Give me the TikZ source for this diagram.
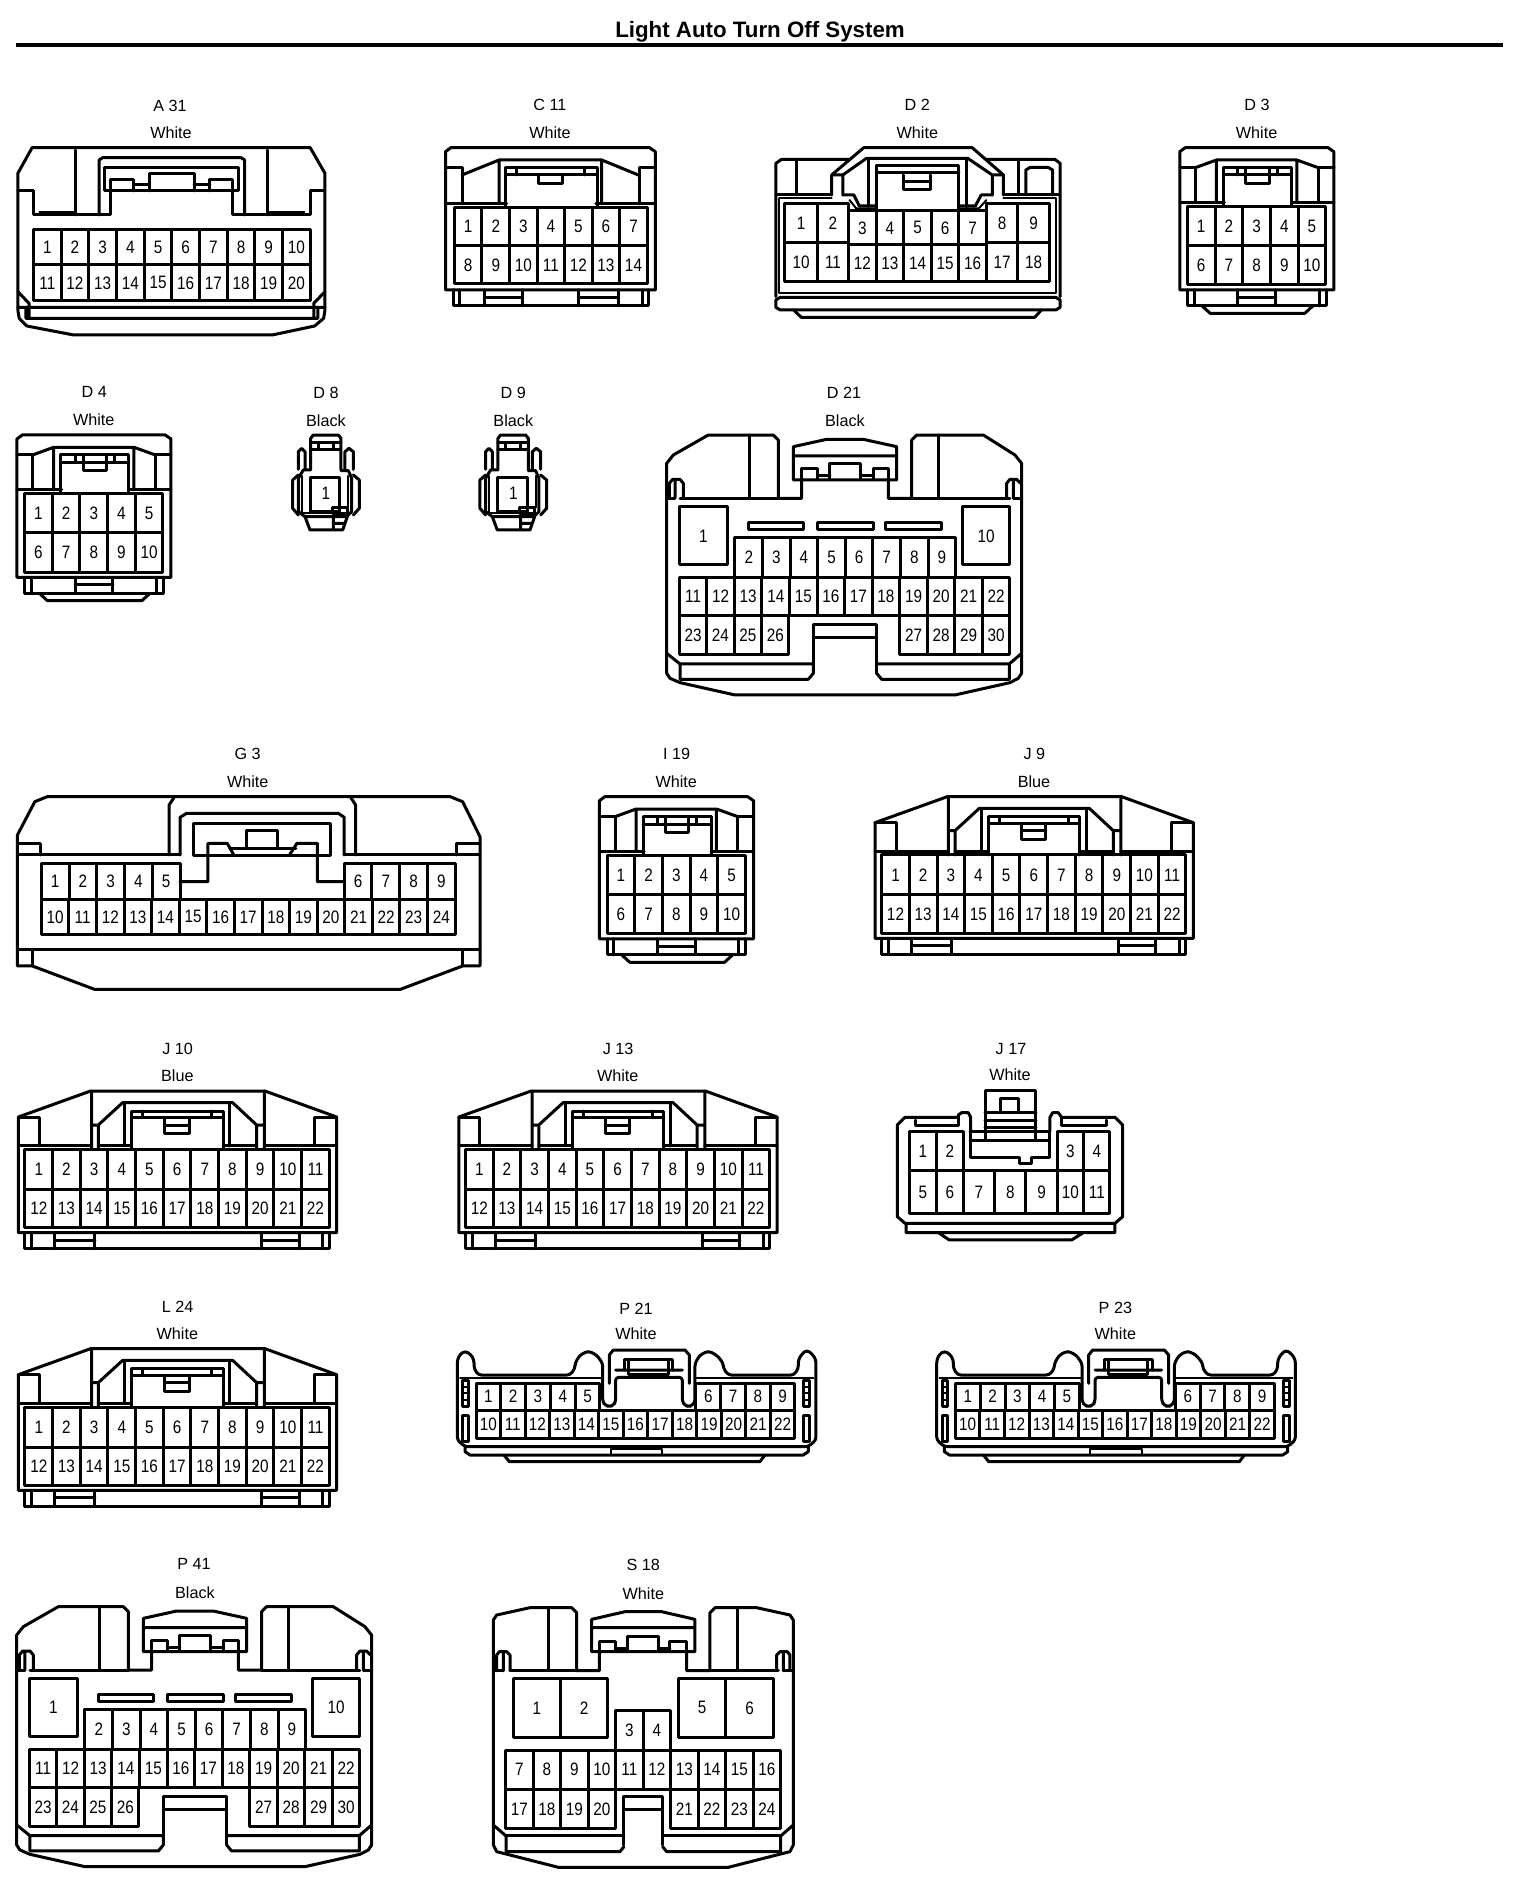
\documentclass[tikz,border=0pt]{standalone}
\usepackage{fontspec}
\setmainfont{Liberation Sans}
\newcounter{nd}
\tikzset{
 ln/.style={line width=3pt,line join=round,line cap=round},
 tn/.style={line width=2pt,line join=round,line cap=round},
 pinlab/.style={inner sep=0pt,font=\fontsize{18}{20}\selectfont},
 lab/.style={inner sep=0pt,font=\fontsize{16.2}{18}\selectfont},
 ttl/.style={inner sep=0pt,font=\fontsize{22.3}{24}\selectfont\bfseries},
 zA/.style={x=0.4464pt,y=-0.3333pt},
 zB/.style={x=0.3954pt,y=-0.3333pt},
 zC/.style={x=0.4974pt,y=-0.3333pt},
 zD/.style={x=0.3333pt,y=-0.3333pt}
}
\newcommand\pcell[5]{%
 \draw[ln] (#1,#3) rectangle (#2,#4);
 \stepcounter{nd}%
 \node[pinlab] (n\arabic{nd}) at ({(#1+#2)/2},{(#3+#4)/2}) {\scalebox{0.85}[1]{#5}};
}
\newcommand\prow[6]{%
 \foreach \ii in {1,...,#6}{%
  \pgfmathsetmacro\xa{#1+(\ii-1)*(#2-#1)/#6}%
  \pgfmathsetmacro\xb{#1+\ii*(#2-#1)/#6}%
  \pgfmathtruncatemacro\nm{#5+\ii-1}%
  \pcell{\xa}{\xb}{#3}{#4}{\nm}
 }
}
\newcommand\clab[3]{%
 \stepcounter{nd}%
 \node[lab] (n\arabic{nd}) at (#1,#2) {#3};
}
% ---- J family (J9 geometry, zoom scale 3)
\newcommand\jshape[2]{%
 \clab{523}{43}{#1}\clab{522}{124}{#2}
 \draw[ln] (45,248)--(262,170)--(785,170)--(1000,248)--(1000,595)--(45,595)--cycle;
 \draw[ln] (45,335)--(265,335) (285,335)--(385,335) (660,335)--(760,335) (783,335)--(1000,335);
 \draw[ln] (45,248)--(108,248)--(108,335) (1000,248)--(935,248)--(935,335);
 \draw[ln] (265,170)--(265,345) (285,345)--(285,272)--(358,205)--(688,205)--(760,272)--(760,345) (265,272)--(285,272) (760,272)--(783,272) (783,170)--(783,345);
 \draw[ln] (365,205)--(365,335) (680,205)--(680,335);
 \draw[ln] (385,345)--(385,230)--(660,230)--(660,345) (385,250)--(660,250) (418,230)--(418,250) (625,230)--(625,250);
 \draw[ln] (485,250)--(485,298)--(558,298)--(558,250) (485,272)--(558,272);
 \prow{65}{978}{345}{465}{1}{11}
 \prow{65}{978}{465}{580}{12}{11}
 \draw[ln] (65,595)--(65,643)--(978,643)--(978,595) (85,595)--(85,643) (958,595)--(958,643);
 \draw[ln] (155,595)--(155,643) (275,595)--(275,643) (155,618)--(275,618);
 \draw[ln] (775,595)--(775,643) (888,595)--(888,643) (775,618)--(888,618);
}
% ---- D3 family (zoom x 2.24, y 3)
\newcommand\dshape[2]{%
 \clab{1203}{75}{#1}\clab{1202}{158}{#2}
 \draw[ln] (1030,630)--(1030,215)--(1042,203)--(1362,203)--(1375,215)--(1375,630)--cycle;
 \draw[ln] (1030,263)--(1065,263)--(1065,368) (1375,263)--(1340,263)--(1340,368);
 \draw[ln] (1065,263)--(1112,240)--(1292,240)--(1340,263) (1112,240)--(1112,368) (1292,240)--(1292,368);
 \draw[ln] (1030,368)--(1130,368) (1280,368)--(1375,368);
 \draw[ln] (1128,378)--(1128,262)--(1280,262)--(1280,378) (1128,285)--(1280,285);
 \draw[ln] (1178,262)--(1178,310)--(1230,310)--(1230,262) (1160,262)--(1160,285) (1248,262)--(1248,285);
 \prow{1047}{1357}{380}{497}{1}{5}
 \prow{1047}{1357}{497}{615}{6}{5}
 \draw[ln] (1047,630)--(1047,678)--(1358,678)--(1358,630) (1062,630)--(1062,678) (1342,630)--(1342,678);
 \draw[ln] (1160,630)--(1160,672) (1245,630)--(1245,672) (1160,652)--(1245,652);
 \draw[ln] (1080,678)--(1098,700)--(1310,700)--(1328,678);
}
% ---- D8 family (zoom 3)
\newcommand\dsmall[2]{%
 \clab{168}{-22}{#1}\clab{168}{62}{#2}
 \draw[ln] (122,208)--(122,115)--(130,105)--(205,105)--(213,115)--(213,208);
 \draw[ln] (122,127)--(213,127) (122,148)--(213,148) (145,127)--(145,148) (190,127)--(190,148);
 \draw[ln] (122,210)--(100,210)--(85,235)--(85,335)--(105,350)--(230,350)--(245,335)--(245,235)--(235,212)--(213,212);
 \draw[ln] (85,208)--(85,155)--(95,145)--(105,155)--(105,208) (225,208)--(225,155)--(237,145)--(250,155)--(250,208);
 \draw[ln] (85,225)--(68,240)--(68,325)--(85,345) (250,225)--(268,240)--(268,325)--(250,345);
 \draw[tn] (95,228)--(95,340)--(190,340) (235,228)--(235,322);
 \draw[ln] (122,232) rectangle (210,335);
 \stepcounter{nd}\node[pinlab] (n\arabic{nd}) at (168,280) {\scalebox{0.85}[1]{1}};
 \draw[ln] (188,322) rectangle (232,340);
 \draw[ln] (105,350)--(120,390)--(218,390)--(232,350) (190,352)--(190,390) (190,370)--(225,370);
}
% ---- D21 family (zoom 3)
\newcommand\dwide[2]{%
 \clab{612}{38}{#1}\clab{615}{122}{#2}
 \draw[ln] (80,880)--(80,250)--(100,225)--(205,165)--(400,165)--(415,180)--(415,355)--(485,355)--(485,295);
 \draw[ln] (1145,880)--(1145,250)--(1125,225)--(1030,165)--(830,165)--(815,180)--(815,355)--(745,355)--(745,295);
 \draw[ln] (330,165)--(330,355) (897,165)--(897,355) (120,355)--(415,355) (815,355)--(1110,355);
 \draw[ln] (460,300)--(460,200)--(560,178)--(670,178)--(770,200)--(770,300)--cycle (460,228)--(770,228);
 \draw[ln] (485,298)--(485,265)--(532,265)--(532,298) (700,298)--(700,265)--(745,265)--(745,298) (570,298)--(570,250)--(662,250)--(662,298) (532,288)--(570,288) (662,288)--(700,288);
 \draw[ln] (88,352)--(88,310)--(98,298)--(120,298)--(130,310)--(130,355) (105,300)--(105,352);
 \draw[ln] (1100,355)--(1100,310)--(1110,298)--(1130,298)--(1142,310) (1120,300)--(1120,352);
 \draw[ln] (80,355)--(105,355) (1120,355)--(1145,355);
 \pcell{118}{262}{380}{555}{1}
 \pcell{967}{1110}{380}{555}{10}
 \draw[ln] (325,428) rectangle (492,450) (532,428) rectangle (700,450) (737,428) rectangle (905,450);
 \prow{285}{947}{473}{592}{2}{8}
 \prow{118}{1110}{592}{708}{11}{12}
 \prow{118}{447}{708}{825}{23}{4}
 \prow{780}{1110}{708}{825}{27}{4}
 \draw[ln] (520,852)--(520,733)--(710,733)--(710,880) (520,773)--(710,773);
 \draw[ln] (520,852)--(520,880)--(505,898)--(120,898)--(120,852)--(520,852) (710,880)--(725,898)--(1108,898)--(1108,852)--(710,852);
 \draw[ln] (80,820)--(120,852) (1145,820)--(1108,852);
 \draw[ln] (80,880)--(90,895)--(120,908)--(285,945)--(945,945)--(1110,908)--(1135,895)--(1145,880);
}
% ---- P21 family (zoom 3)
\newcommand\pshape[2]{%
 \clab{558}{25}{#1}\clab{558}{102}{#2}
 \draw[ln,rounded corners=3pt] (22,420)--(22,180)--(30,163)--(45,153)--(62,163)--(72,180)--(72,205)--(85,225)--(360,225)--(375,205)--(375,190)--(390,165)--(415,153)--(440,165)--(458,190)--(458,305)--(466,316)--(478,320)--(490,316)--(497,305)--(497,232)--(697,232)--(697,305)--(705,316)--(716,320)--(727,316)--(735,305)--(735,190)--(750,165)--(775,153)--(800,165)--(820,190)--(820,205)--(835,225)--(1032,225)--(1045,205)--(1045,180)--(1055,163)--(1070,150)--(1088,163)--(1098,180)--(1098,420)--(1075,440)--(45,440)--cycle;
 \draw[ln] (478,250)--(478,165)--(490,150)--(705,150)--(718,165)--(718,250) (497,210)--(697,210);
 \draw[ln] (525,210)--(525,178)--(668,178)--(668,210) (537,178)--(537,222)--(655,222)--(655,178);
 \draw[tn] (30,235)--(455,235) (738,235)--(1090,235);
 \draw[ln] (38,240) rectangle (55,320) (38,345) rectangle (55,425) (1062,240) rectangle (1080,320) (1062,345) rectangle (1080,425);
 \draw[tn] (38,260)--(55,260) (38,280)--(55,280) (38,300)--(55,300) (1062,260)--(1080,260) (1062,280)--(1080,280) (1062,300)--(1080,300);
 \prow{78}{450}{250}{330}{1}{5}
 \prow{738}{1035}{250}{330}{6}{4}
 \prow{78}{1035}{330}{415}{10}{13}
 \draw[ln] (45,440)--(45,455)--(60,465)--(1060,465)--(1075,455)--(1075,440);
 \draw[ln] (162,465)--(178,485)--(930,485)--(945,465);
 \draw[tn] (482,447) rectangle (637,465);
}
\begin{document}
\begin{tikzpicture}[x=1pt,y=-1pt]
\useasboundingbox (0,0) rectangle (1520,1898);
\node[ttl] (title) at (760,32) {Light Auto Turn Off System};
\draw[line width=3.4pt] (16,45)--(1503,45);

% A31
\begin{scope}[shift={(0,80)},zA]
 \clab{381}{77}{A 31}\clab{383}{158}{White}
 \draw[ln] (72,203)--(695,203)--(728,280)--(728,690)--(725,715)--(705,738)--(610,765)--(165,765)--(60,738)--(43,715)--(40,690)--(40,280)--cycle;
 \draw[ln] (40,333)--(75,333)--(75,405)--(248,405)--(248,335);
 \draw[ln] (728,333)--(695,333)--(695,405)--(520,405)--(520,335);
 \draw[ln] (170,210)--(170,405) (600,210)--(600,405);
 \draw[tn] (88,395)--(170,395) (600,395)--(682,395);
 \draw[ln] (222,405)--(222,240)--(230,233)--(540,233)--(548,240)--(548,405);
 \draw[ln] (235,262) rectangle (535,333);
 \draw[ln] (248,333)--(248,298)--(300,298)--(300,333) (470,333)--(470,298)--(520,298)--(520,333) (335,333)--(335,280)--(435,280)--(435,333) (300,315)--(335,315) (435,315)--(470,315);
 \prow{75}{695}{450}{555}{1}{10}
 \prow{75}{695}{555}{662}{11}{10}
 \draw[ln] (40,682)--(728,682) (58,715)--(712,715) (58,682)--(58,715) (712,682)--(712,715) (40,635)--(65,670)--(65,715) (728,635)--(703,670)--(703,715);
\end{scope}

% C11
\begin{scope}[shift={(0,80)},zA]
 \clab{1232}{75}{C 11}\clab{1232}{158}{White}
 \draw[ln] (998,630)--(998,215)--(1010,203)--(1455,203)--(1468,215)--(1468,630)--cycle;
 \draw[ln] (998,372)--(1135,372) (1335,372)--(1468,372);
 \draw[ln] (998,262)--(1035,262)--(1035,372) (1468,262)--(1433,262)--(1433,372);
 \draw[ln] (1035,285)--(1118,240)--(1348,240)--(1430,285) (1118,240)--(1118,372) (1348,240)--(1348,372);
 \draw[ln] (1133,380)--(1133,262)--(1338,262)--(1338,380) (1133,285)--(1338,285) (1157,262)--(1157,285) (1310,262)--(1310,285);
 \draw[ln] (1207,285)--(1207,310)--(1260,310)--(1260,285);
 \prow{1018}{1450}{382}{497}{1}{7}
 \prow{1018}{1450}{497}{612}{8}{7}
 \draw[ln] (1015,630)--(1015,678)--(1452,678)--(1452,630) (1030,630)--(1030,678) (1440,630)--(1440,678);
 \draw[ln] (1085,630)--(1085,678) (1170,630)--(1170,678) (1085,652)--(1170,652);
 \draw[ln] (1295,630)--(1295,678) (1385,630)--(1385,678) (1295,652)--(1385,652);
\end{scope}

% D2
\begin{scope}[shift={(720,80)},zA]
 \clab{442}{75}{D 2}\clab{442}{158}{White}
 \draw[ln] (125,650)--(125,250)--(138,238)--(290,238) (595,238)--(750,238)--(762,250)--(762,650);
 \draw[ln] (250,285)--(322,203)--(565,203)--(635,285);
 \draw[ln] (125,345)--(250,345) (635,345)--(762,345);
 \draw[tn] (133,355)--(250,355) (635,355)--(752,355);
 \draw[tn] (133,355)--(133,640)--(752,640)--(752,355);
 \draw[ln] (172,238)--(172,345) (668,238)--(668,345);
 \draw[ln] (685,345)--(685,270)--(695,262)--(735,262)--(745,270)--(745,345);
 \draw[ln] (250,345)--(250,285)--(275,285)--(275,345) (275,285)--(328,235)--(555,235)--(610,285)--(635,285)--(635,345) (610,285)--(610,345);
 \draw[ln] (332,235)--(332,380) (552,235)--(552,380);
 \draw[ln] (350,390)--(350,257)--(535,257)--(535,390) (350,277)--(535,277);
 \draw[ln] (412,285)--(412,328)--(472,328)--(472,285) (412,306)--(472,306);
 \draw[ln] (275,345)--(300,345)--(312,378)--(350,378) (610,345)--(585,345)--(572,378)--(535,378);
 \draw[tn] (290,360)--(305,385)--(350,385) (597,360)--(580,385)--(535,385);
 \pcell{145}{218}{372}{488}{1}\pcell{218}{288}{372}{488}{2}
 \pcell{597}{667}{372}{488}{8}\pcell{667}{738}{372}{488}{9}
 \pcell{145}{218}{488}{605}{10}\pcell{218}{288}{488}{605}{11}
 \pcell{597}{667}{488}{605}{17}\pcell{667}{738}{488}{605}{18}
 \prow{288}{597}{392}{495}{3}{5}
 \prow{288}{597}{495}{605}{12}{5}
 \draw[ln] (135,652)--(752,652)--(762,660)--(762,682)--(752,690)--(135,690)--(125,682)--(125,660)--cycle;
 \draw[ln] (165,690)--(182,712)--(705,712)--(720,690);
\end{scope}

% D3, D4, I19
\begin{scope}[shift={(720,80)},zA] \dshape{D 3}{White} \end{scope}
\begin{scope}[shift={(-442.8,367.3)},zA] \dshape{D 4}{White} \end{scope}
\begin{scope}[shift={(139.7,729)},zA] \dshape{I 19}{White} \end{scope}

% D8, D9
\begin{scope}[shift={(270,400)},zD] \dsmall{D 8}{Black} \end{scope}
\begin{scope}[shift={(457.3,400)},zD] \dsmall{D 9}{Black} \end{scope}

% D21, P41
\begin{scope}[shift={(640,380)},zD] \dwide{D 21}{Black} \end{scope}
\begin{scope}[shift={(-10,1551.67)},zD] \dwide{P 41}{Black} \end{scope}

% G3
\begin{scope}[shift={(0,740)},zC]
 \clab{498}{43}{G 3}\clab{498}{125}{White}
 \draw[ln] (35,285)--(70,185)--(95,170)--(905,170)--(930,185)--(965,290)--(965,678)--(930,678)--(805,748)--(190,748)--(65,678)--(35,678)--cycle;
 \draw[ln] (35,345)--(362,345) (692,345)--(965,345);
 \draw[ln] (35,310)--(82,310)--(82,345) (965,310)--(917,310)--(917,345);
 \draw[ln] (35,628)--(965,628) (65,628)--(65,678) (930,628)--(930,678);
 \draw[ln] (340,345)--(340,195)--(350,172) (715,345)--(715,195)--(705,172);
 \draw[ln] (362,345)--(362,232)--(375,220)--(680,220)--(692,232)--(692,345);
 \draw[ln] (390,348) rectangle (665,250);
 \draw[ln] (362,425)--(418,425)--(418,310)--(457,310)--(470,345) (692,425)--(638,425)--(638,310)--(597,310)--(582,345);
 \draw[ln] (495,325)--(495,272)--(558,272)--(558,325) (462,325)--(595,325);
 \prow{83}{362}{370}{478}{1}{5}
 \prow{692}{915}{370}{478}{6}{4}
 \prow{83}{915}{478}{583}{10}{15}
\end{scope}

% J family
\begin{scope}[shift={(860,740)},zD] \jshape{J 9}{Blue} \end{scope}
\begin{scope}[shift={(3.33,1034.33)},zD] \jshape{J 10}{Blue} \end{scope}
\begin{scope}[shift={(443.8,1034.33)},zD] \jshape{J 13}{White} \end{scope}
\begin{scope}[shift={(3.33,1292)},zD] \jshape{L 24}{White} \end{scope}

% J17
\begin{scope}[shift={(880,1040)},zD]
 \clab{393}{27}{J 17}\clab{390}{105}{White}
 \draw[ln] (272,272)--(272,232)--(265,218)--(245,218)--(235,225)--(235,232)--(75,232)--(52,255)--(52,530)--(75,550)--(705,550)--(728,530)--(728,255)--(705,232)--(545,232)--(535,218)--(518,218)--(510,232)--(510,272);
 \draw[ln] (105,240)--(105,255)--(235,255)--(235,232) (545,232)--(545,255)--(680,255)--(680,240);
 \draw[ln] (315,300)--(315,150)--(468,150)--(468,300) (362,218)--(362,175)--(415,175)--(415,218) (315,218)--(468,218) (315,240)--(468,240) (315,262)--(468,262);
 \prow{88}{250}{275}{390}{1}{2}
 \prow{532}{690}{275}{390}{3}{2}
 \prow{88}{250}{390}{522}{5}{2}
 \prow{250}{532}{390}{522}{7}{3}
 \prow{532}{690}{390}{522}{10}{2}
 \draw[ln] (270,275)--(510,275) (270,300)--(510,300);
 \draw[ln] (270,275)--(270,352)--(420,352)--(420,370)--(455,370)--(455,352)--(510,352)--(510,275);
 \draw[ln] (78,550)--(78,578)--(705,578)--(705,550) (175,578)--(208,600)--(575,600)--(610,578);
\end{scope}

% P21, P23
\begin{scope}[shift={(450,1300)},zD] \pshape{P 21}{White} \end{scope}
\begin{scope}[shift={(929.4,1300)},zD] \pshape{P 23}{White} \end{scope}

% S18
\begin{scope}[shift={(480,1560)},zD]
 \clab{490}{15}{S 18}\clab{490}{100}{White}
 \draw[ln] (40,855)--(40,180)--(50,165)--(150,143)--(275,143)--(290,158)--(290,332)--(358,332)--(358,272);
 \draw[ln] (940,855)--(940,180)--(930,165)--(830,143)--(705,143)--(690,158)--(690,332)--(620,332)--(620,272);
 \draw[ln] (205,143)--(205,332) (772,143)--(772,332) (90,332)--(290,332) (690,332)--(895,332);
 \draw[ln] (335,275)--(335,178)--(435,155)--(545,155)--(645,178)--(645,275)--cycle (335,203)--(645,203);
 \draw[ln] (358,275)--(358,243)--(408,243)--(408,275) (570,275)--(570,243)--(620,243)--(620,275) (442,275)--(442,228)--(537,228)--(537,275) (408,265)--(442,265) (537,265)--(570,265);
 \draw[ln] (50,332)--(50,285)--(58,275)--(80,275)--(90,285)--(90,332) (70,278)--(70,332);
 \draw[ln] (930,332)--(930,285)--(922,275)--(900,275)--(890,285)--(890,332) (910,278)--(910,332);
 \draw[ln] (40,332)--(70,332) (910,332)--(940,332);
 \prow{100}{383}{355}{532}{1}{2}
 \prow{595}{880}{355}{532}{5}{2}
 \prow{407}{572}{452}{570}{3}{2}
 \prow{77}{902}{570}{688}{7}{10}
 \prow{77}{407}{688}{805}{17}{4}
 \prow{572}{902}{688}{805}{21}{4}
 \draw[ln] (432,855)--(432,710)--(548,710)--(548,855) (432,748)--(548,748);
 \draw[ln] (78,828)--(432,828) (548,828)--(902,828);
 \draw[ln] (78,828)--(78,875)--(420,875)--(432,860) (548,860)--(560,875)--(902,875)--(902,828);
 \draw[ln] (40,795)--(78,828) (940,795)--(902,828);
 \draw[ln] (40,855)--(50,875)--(78,882)--(235,922)--(745,922)--(902,882)--(930,875)--(940,855);
\end{scope}
\end{tikzpicture}
\end{document}
